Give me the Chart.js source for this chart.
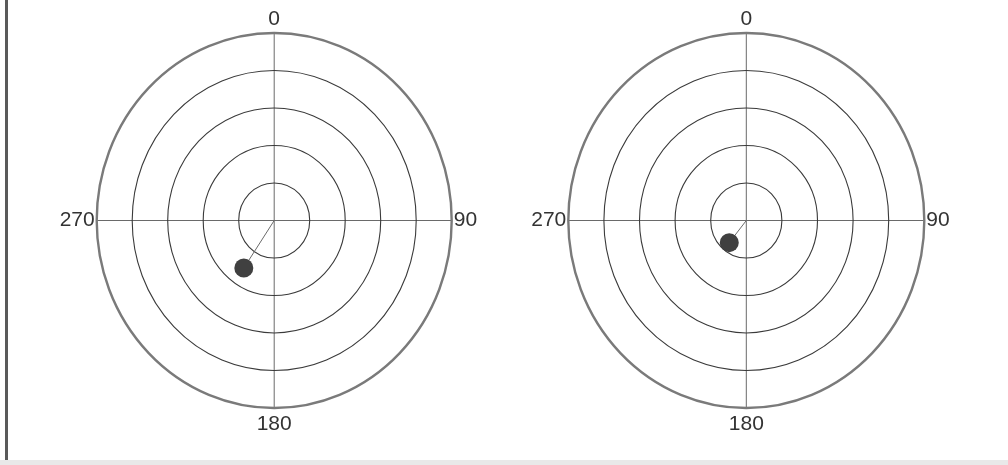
<!DOCTYPE html>
<html>
<head>
<meta charset="utf-8">
<script src="https://cdn.jsdelivr.net/npm/chart.js@4.4.1/dist/chart.umd.min.js"></script>
<style>
  html, body { margin: 0; padding: 0; background: #ffffff; width: 1008px; height: 465px; overflow: hidden; }
  .wrap { position: absolute; top: 0; height: 465px; width: 504px; }
  #leftBorder { position: absolute; left: 5px; top: 0; width: 3px; height: 465px; background: #5a5a5a; }
  #bottomBand { position: absolute; left: 0; top: 460px; width: 1008px; height: 5px; background: #e9e9e9; }
</style>
</head>
<body>
<div id="leftBorder"></div>
<div id="bottomBand"></div>
<div class="wrap" style="left:0"><canvas id="c1"></canvas></div>
<div class="wrap" style="left:504px"><canvas id="c2"></canvas></div>
<script>
// ---- data ----
const ringValues = [1, 2, 3, 4, 5];          // concentric rings (radial units)
const angleLabels = ['0', '90', '180', '270']; // compass labels: top, right, bottom, left
const leftRadius = 1.53;   // point magnitude, left plot
const leftAngle = 214;     // degrees, clockwise from 0 (top)
const rightRadius = 0.76;  // point magnitude, right plot
const rightAngle = 219;    // degrees

const rMax = ringValues[ringValues.length - 1];

function polarToXY(r, deg) {
  const a = deg * Math.PI / 180;
  return { x: r * Math.sin(a), y: r * Math.cos(a) };
}

const polarGrid = {
  id: 'polarGrid',
  beforeDatasetsDraw(chart) {
    const { ctx, scales: { x, y } } = chart;
    const cx = x.getPixelForValue(0), cy = y.getPixelForValue(0);
    ctx.save();
    // crosshair
    ctx.strokeStyle = '#6a6a6a';
    ctx.lineWidth = 1;
    ctx.beginPath();
    ctx.moveTo(x.getPixelForValue(-rMax), cy); ctx.lineTo(x.getPixelForValue(rMax), cy);
    ctx.moveTo(cx, y.getPixelForValue(rMax)); ctx.lineTo(cx, y.getPixelForValue(-rMax));
    ctx.stroke();
    // rings
    ringValues.forEach((v, i) => {
      const rx = x.getPixelForValue(v) - cx;
      const ry = cy - y.getPixelForValue(v);
      const outer = i === ringValues.length - 1;
      ctx.strokeStyle = outer ? '#7a7a7a' : '#3a3a3a';
      ctx.lineWidth = outer ? 2.4 : 1.1;
      ctx.beginPath();
      ctx.ellipse(cx, cy, rx, ry, 0, 0, Math.PI * 2);
      ctx.stroke();
    });
    ctx.restore();
  },
  afterDraw(chart) {
    const { ctx, scales: { x, y } } = chart;
    const cx = x.getPixelForValue(0), cy = y.getPixelForValue(0);
    const top = y.getPixelForValue(rMax), bottom = y.getPixelForValue(-rMax);
    const left = x.getPixelForValue(-rMax), right = x.getPixelForValue(rMax);
    ctx.save();
    ctx.fillStyle = '#333333';
    ctx.font = '21px "Liberation Sans Narrow", "Liberation Sans", sans-serif';
    ctx.textBaseline = 'middle';
    ctx.textAlign = 'center';
    ctx.fillText(angleLabels[0], cx, top - 14);
    ctx.fillText(angleLabels[2], cx, bottom + 16);
    ctx.textAlign = 'left';
    ctx.fillText(angleLabels[1], right + 2, cy);
    ctx.textAlign = 'right';
    ctx.fillText(angleLabels[3], left - 2, cy);
    ctx.restore();
  }
};

function makeChart(id, r, deg, padding) {
  const p = polarToXY(r, deg);
  return new Chart(document.getElementById(id), {
    type: 'scatter',
    data: {
      datasets: [{
        data: [{ x: 0, y: 0 }, p],
        showLine: true,
        borderColor: '#6a6a6a',
        borderWidth: 1,
        pointRadius: [0, 9.5],
        pointHoverRadius: [0, 9.5],
        pointBackgroundColor: '#404040',
        pointBorderColor: '#404040',
        pointBorderWidth: 0,
        clip: false
      }]
    },
    options: {
      responsive: true,
      maintainAspectRatio: false,
      animation: false,
      layout: { padding },
      plugins: { legend: { display: false }, tooltip: { enabled: false } },
      scales: {
        x: { type: 'linear', min: -rMax, max: rMax, display: false },
        y: { type: 'linear', min: -rMax, max: rMax, display: false }
      }
    },
    plugins: [polarGrid]
  });
}

makeChart('c1', leftRadius, leftAngle, { left: 96.7, right: 52.3, top: 33, bottom: 57 });
makeChart('c2', rightRadius, rightAngle, { left: 64.3, right: 83.7, top: 33, bottom: 57 });
</script>
</body>
</html>
